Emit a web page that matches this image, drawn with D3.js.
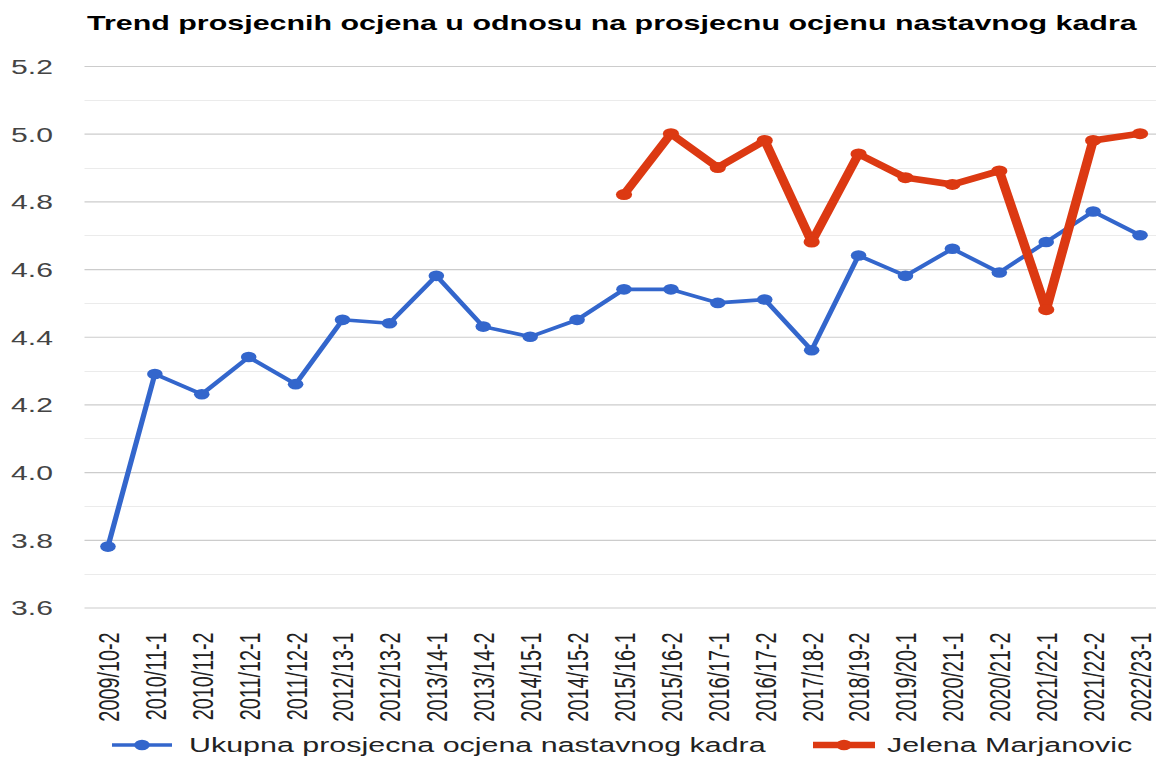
<!DOCTYPE html>
<html>
<head>
<meta charset="utf-8">
<script src="https://cdn.jsdelivr.net/npm/d3@7"></script>
<style>
  html, body { margin: 0; padding: 0; background: #fff; }
  svg { display: block; }
  text { font-family: "Liberation Sans", Arial, sans-serif; }
</style>
</head>
<body>
<script>
const categories = ["2009/10-2","2010/11-1","2010/11-2","2011/12-1","2011/12-2","2012/13-1","2012/13-2","2013/14-1","2013/14-2","2014/15-1","2014/15-2","2015/16-1","2015/16-2","2016/17-1","2016/17-2","2017/18-2","2018/19-2","2019/20-1","2020/21-1","2020/21-2","2021/22-1","2021/22-2","2022/23-1"];
const overallValues = [3.78,4.29,4.23,4.34,4.26,4.45,4.44,4.58,4.43,4.40,4.45,4.54,4.54,4.50,4.51,4.36,4.64,4.58,4.66,4.59,4.68,4.77,4.70];
const jelenaValues = [null,null,null,null,null,null,null,null,null,null,null,4.82,5.00,4.90,4.98,4.68,4.94,4.87,4.85,4.89,4.48,4.98,5.00];
const yTickValues = [3.6,3.8,4.0,4.2,4.4,4.6,4.8,5.0,5.2];
const yMinorValues = [3.7,3.9,4.1,4.3,4.5,4.7,4.9,5.1];
const seriesNames = ["Ukupna prosjecna ocjena nastavnog kadra","Jelena Marjanovic"];
const titleText = "Trend prosjecnih ocjena u odnosu na prosjecnu ocjenu nastavnog kadra";

const W = 1156, H = 757;
const SX = 1.47; // horizontal stretch of the whole picture
const plotLeft = 84.5 / SX, plotRight = 1163.5 / SX;
const plotTop = 66, plotBottom = 607.5;

const svg = d3.select("body").append("svg").attr("width", W).attr("height", H);
svg.append("rect").attr("width", W).attr("height", H).attr("fill", "#fff");
const g = svg.append("g").attr("transform", `scale(${SX},1)`);

const x = d3.scalePoint().domain(categories).range([plotLeft, plotRight]).padding(0.5);
const y = d3.scaleLinear().domain([3.6, 5.2]).range([plotBottom, plotTop]);

// minor gridlines
g.append("g").selectAll("line").data(yMinorValues).join("line")
  .attr("x1", plotLeft).attr("x2", plotRight)
  .attr("y1", d => Math.round(y(d)) + 0.5).attr("y2", d => Math.round(y(d)) + 0.5)
  .attr("stroke", "#ebebeb").attr("stroke-width", 1);

// major gridlines + labels via axis
const yAxis = d3.axisLeft(y).tickValues(yTickValues).tickFormat(d3.format(".1f"))
  .tickSize(-(plotRight - plotLeft)).tickPadding(0);
const ya = g.append("g").attr("transform", `translate(${plotLeft},0)`).call(yAxis);
ya.select(".domain").remove();
ya.selectAll(".tick line").attr("stroke", "#cccccc").attr("stroke-width", 1.2);
ya.selectAll(".tick text")
  .attr("x", 36 - plotLeft).attr("dy", "0.36em")
  .attr("text-anchor", "end")
  .attr("font-size", 20.5).attr("fill", "#444")
  .style("font-family", '"Liberation Sans", Arial, sans-serif');

// x axis labels (rotated)
const xAxis = d3.axisBottom(x).tickSize(0).tickPadding(0);
const xa = g.append("g").attr("transform", `translate(0,${plotBottom})`).call(xAxis);
xa.select(".domain").remove();
xa.selectAll(".tick text")
  .attr("transform", "translate(0,25) rotate(-90)")
  .attr("x", 0).attr("y", 0).attr("dy", "0.35em")
  .attr("text-anchor", "end")
  .attr("font-size", 19.8).attr("fill", "#222")
  .style("font-family", '"Liberation Sans", Arial, sans-serif');

// lines
const line = d3.line().defined(d => d.v != null).x(d => x(d.c)).y(d => y(d.v));
const overallData = categories.map((c, i) => ({c, v: overallValues[i]}));
const jelenaData = categories.map((c, i) => ({c, v: jelenaValues[i]}));

g.append("path").datum(overallData).attr("d", line)
  .attr("fill", "none").attr("stroke", "#3366cc").attr("stroke-width", 3.6)
  .attr("stroke-linejoin", "round");
g.append("g").selectAll("circle").data(overallData.filter(d => d.v != null)).join("circle")
  .attr("cx", d => x(d.c)).attr("cy", d => y(d.v)).attr("r", 5.3).attr("fill", "#3366cc");

g.append("path").datum(jelenaData).attr("d", line)
  .attr("fill", "none").attr("stroke", "#dc3912").attr("stroke-width", 6.5)
  .attr("stroke-linejoin", "round");
g.append("g").selectAll("circle").data(jelenaData.filter(d => d.v != null)).join("circle")
  .attr("cx", d => x(d.c)).attr("cy", d => y(d.v)).attr("r", 5.5).attr("fill", "#dc3912");

// title
g.append("text").attr("x", 87 / SX).attr("y", 30)
  .attr("font-size", 20.7).attr("font-weight", "bold").attr("fill", "#000")
  .text(titleText);

// legend
const legendY = 745;
const legendItems = [
  {name: seriesNames[0], color: "#3366cc", w: 3.6, x1: 112, x2: 172, tx: 189},
  {name: seriesNames[1], color: "#dc3912", w: 6.5, x1: 813, x2: 875, tx: 887}
];
const lg = g.append("g");
legendItems.forEach(it => {
  lg.append("line").attr("x1", it.x1 / SX).attr("x2", it.x2 / SX)
    .attr("y1", legendY).attr("y2", legendY)
    .attr("stroke", it.color).attr("stroke-width", it.w);
  lg.append("circle").attr("cx", (it.x1 + it.x2) / 2 / SX).attr("cy", legendY).attr("r", 5.3).attr("fill", it.color);
  lg.append("text").attr("x", it.tx / SX).attr("y", legendY).attr("dy", "0.36em")
    .attr("font-size", 20.7).attr("fill", "#222").text(it.name);
});
</script>
</body>
</html>
